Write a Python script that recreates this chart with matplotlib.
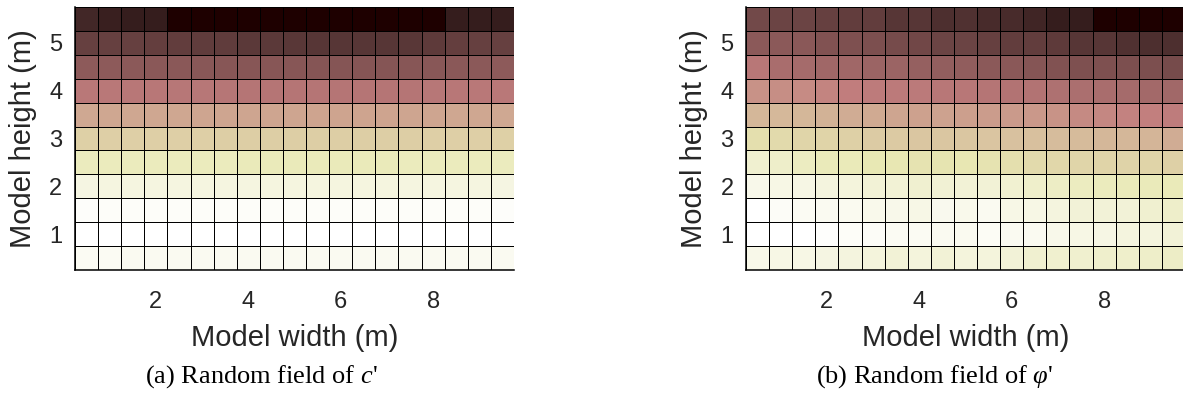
import numpy as np
import matplotlib
matplotlib.use("Agg")
import matplotlib.pyplot as plt

plt.rcParams['font.family'] = ['Liberation Sans', 'DejaVu Sans']
plt.rcParams['mathtext.fontset'] = 'custom'
plt.rcParams['mathtext.rm'] = 'Liberation Serif'
plt.rcParams['mathtext.it'] = 'Liberation Serif:italic'

# cell centres of the model mesh (m)
x_centers = [0.5, 1.0, 1.5, 2.0, 2.5, 3.0, 3.5, 4.0, 4.5, 5.0,
             5.5, 6.0, 6.5, 7.0, 7.5, 8.0, 8.5, 9.0, 9.5]
y_centers = [0.5, 1.0, 1.5, 2.0, 2.5, 3.0, 3.5, 4.0, 4.5, 5.0, 5.5]

x_ticks = [2, 4, 6, 8]
y_ticks = [1, 2, 3, 4, 5]

# normalised random field of c' (rows bottom -> top)
c_field = [
    [0.95, 0.95, 0.945, 0.945, 0.945, 0.945, 0.945, 0.945, 0.945, 0.945, 0.945, 0.945, 0.945, 0.945, 0.945, 0.945, 0.945, 0.945, 0.945],
    [1.0, 1.0, 1.0, 1.0, 1.0, 1.0, 1.0, 1.0, 1.0, 1.0, 1.0, 1.0, 1.0, 1.0, 1.0, 1.0, 1.0, 1.0, 1.0],
    [0.98, 0.975, 0.975, 0.975, 0.975, 0.975, 0.975, 0.975, 0.975, 0.975, 0.975, 0.975, 0.975, 0.975, 0.975, 0.975, 0.975, 0.975, 0.98],
    [0.89, 0.885, 0.885, 0.885, 0.885, 0.885, 0.885, 0.885, 0.88, 0.88, 0.88, 0.88, 0.88, 0.88, 0.885, 0.885, 0.885, 0.885, 0.89],
    [0.775, 0.77, 0.77, 0.77, 0.77, 0.77, 0.77, 0.765, 0.765, 0.765, 0.765, 0.765, 0.765, 0.765, 0.77, 0.77, 0.77, 0.77, 0.775],
    [0.64, 0.635, 0.635, 0.635, 0.635, 0.635, 0.63, 0.63, 0.63, 0.63, 0.63, 0.63, 0.63, 0.63, 0.63, 0.635, 0.635, 0.635, 0.64],
    [0.49, 0.485, 0.485, 0.485, 0.485, 0.48, 0.48, 0.48, 0.48, 0.48, 0.475, 0.475, 0.475, 0.475, 0.48, 0.48, 0.485, 0.485, 0.49],
    [0.335, 0.333, 0.33, 0.33, 0.328, 0.325, 0.322, 0.32, 0.32, 0.318, 0.318, 0.318, 0.318, 0.318, 0.32, 0.325, 0.33, 0.333, 0.335],
    [0.19, 0.188, 0.185, 0.183, 0.18, 0.178, 0.175, 0.175, 0.172, 0.172, 0.17, 0.17, 0.17, 0.17, 0.172, 0.178, 0.183, 0.185, 0.188],
    [0.097, 0.097, 0.095, 0.092, 0.088, 0.085, 0.083, 0.078, 0.075, 0.072, 0.07, 0.07, 0.07, 0.07, 0.072, 0.08, 0.092, 0.095, 0.095],
    [0.036, 0.024, 0.022, 0.02, 0.0, 0.0, 0.0, 0.0, 0.0, 0.0, 0.0, 0.0, 0.0, 0.0, 0.0, 0.0, 0.022, 0.022, 0.022],
]

# normalised random field of phi' (rows bottom -> top)
phi_field = [
    [0.915, 0.90, 0.90, 0.89, 0.875, 0.87, 0.85, 0.87, 0.85, 0.87, 0.87, 0.855, 0.83, 0.825, 0.825, 0.82, 0.815, 0.805, 0.80],
    [1.0, 1.0, 1.0, 0.985, 0.97, 0.965, 0.95, 0.95, 0.945, 0.94, 0.96, 0.945, 0.945, 0.92, 0.90, 0.895, 0.875, 0.875, 0.855],
    [1.0, 0.965, 0.95, 0.945, 0.94, 0.925, 0.92, 0.905, 0.93, 0.925, 0.945, 0.905, 0.90, 0.875, 0.855, 0.855, 0.855, 0.83, 0.81],
    [0.92, 0.90, 0.895, 0.875, 0.87, 0.85, 0.845, 0.83, 0.84, 0.85, 0.85, 0.835, 0.815, 0.795, 0.78, 0.77, 0.765, 0.765, 0.76],
    [0.83, 0.81, 0.785, 0.765, 0.76, 0.745, 0.74, 0.72, 0.725, 0.74, 0.72, 0.70, 0.68, 0.665, 0.66, 0.655, 0.65, 0.655, 0.64],
    [0.70, 0.68, 0.66, 0.655, 0.64, 0.62, 0.615, 0.60, 0.60, 0.60, 0.595, 0.58, 0.575, 0.56, 0.555, 0.54, 0.54, 0.535, 0.50],
    [0.54, 0.545, 0.54, 0.52, 0.50, 0.495, 0.48, 0.465, 0.47, 0.46, 0.45, 0.445, 0.44, 0.425, 0.395, 0.39, 0.375, 0.37, 0.355],
    [0.42, 0.41, 0.40, 0.38, 0.36, 0.35, 0.345, 0.34, 0.33, 0.33, 0.32, 0.305, 0.305, 0.295, 0.285, 0.275, 0.265, 0.255, 0.25],
    [0.33, 0.275, 0.262, 0.249, 0.249, 0.231, 0.231, 0.213, 0.205, 0.202, 0.185, 0.18, 0.17, 0.16, 0.15, 0.15, 0.145, 0.145, 0.131],
    [0.185, 0.185, 0.18, 0.16, 0.15, 0.145, 0.131, 0.118, 0.109, 0.109, 0.097, 0.089, 0.086, 0.079, 0.07, 0.07, 0.056, 0.053, 0.053],
    [0.122, 0.109, 0.109, 0.097, 0.086, 0.089, 0.07, 0.07, 0.053, 0.056, 0.045, 0.045, 0.033, 0.022, 0.022, 0.0, 0.0, 0.0, 0.0],
]

W, H = 1183, 396
fig = plt.figure(figsize=(W / 100, H / 100), dpi=100)

panels = [
    (c_field, 75, "(a) Random field of $c$'", 261),
    (phi_field, 746, "(b) Random field of $\\varphi$'", 935),
]

for field, left_px, caption, cap_x in panels:
    ax = fig.add_axes([left_px / W, (H - 270) / H, 439 / W, 263 / H])
    ax.pcolormesh(x_centers, y_centers, np.array(field), cmap='pink',
                  vmin=0, vmax=1, shading='nearest',
                  edgecolors='black', linewidth=0.7)
    ax.set_xticks(x_ticks)
    ax.set_yticks(y_ticks)
    ax.tick_params(length=0, labelsize=17, colors='#262626')
    ax.tick_params(axis='x', pad=15)
    ax.tick_params(axis='y', pad=9)
    for side in ['top', 'right']:
        ax.spines[side].set_visible(False)
    for side in ['left', 'bottom']:
        ax.spines[side].set_linewidth(1.1)
    ax.set_xlabel("Model width (m)", fontsize=21, color='#262626')
    ax.set_ylabel("Model height (m)", fontsize=21, color='#262626')
    ax.xaxis.set_label_coords(0.5, -0.205)
    ax.yaxis.set_label_coords(-0.087, 0.5)
    fig.text(cap_x / W, (H - 377) / H, caption, fontsize=19,
             family='Liberation Serif', ha='center', va='center')

fig.savefig("out.png", dpi=100)
